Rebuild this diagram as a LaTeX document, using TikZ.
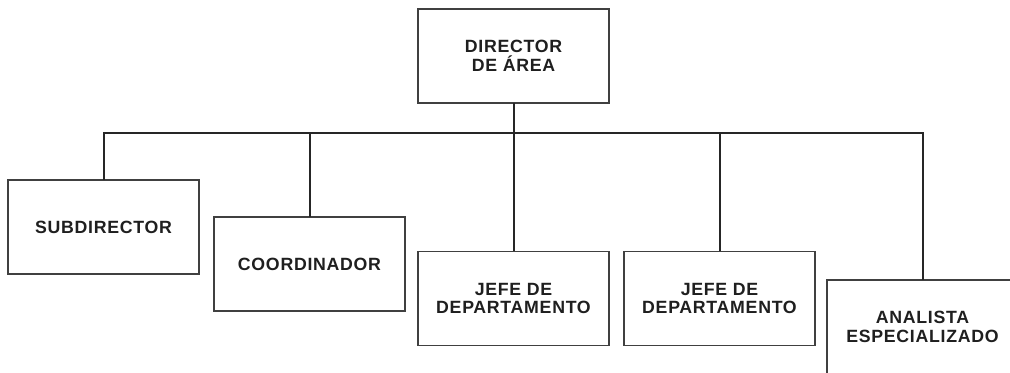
\documentclass[tikz,border=0pt]{standalone}
\usepackage{fontspec}
\newfontfamily\orgfont[LetterSpace=4]{Liberation Sans}
\usepackage{tikz}
\usetikzlibrary{positioning}

\tikzset{
  puesto/.style={draw=black!75,line width=0.9pt,fill=white,minimum width=143.25pt,minimum height=70.5pt,
    inner sep=0pt,outer sep=0pt,align=center,text=black!88,font=\orgfont\bfseries\fontsize{13.3}{13.8}\selectfont},
  enlace/.style={draw=black!85,line width=1.5pt}
}

\begin{document}
\begin{tikzpicture}[line join=miter,x=0.75pt,y=-0.75pt]
\useasboundingbox (0,0) rectangle (1010,373);
\clip (0,0) rectangle (1010,373);
% cajas
\node[puesto] (director) at (513.5,56) {DIRECTOR\\DE ÁREA};
\node[puesto] (sub) at (103.5,227) {SUBDIRECTOR};
\node[puesto] (coord) at (309.5,264) {COORDINADOR};
\node[puesto] (jefeA) at (513.5,298.5) {JEFE DE\\DEPARTAMENTO};
\node[puesto] (jefeB) at (719.5,298.5) {JEFE DE\\DEPARTAMENTO};
\node[puesto] (analista) at (922.5,327) {ANALISTA\\ESPECIALIZADO};
% lineas
\coordinate (bus) at (0,133);
\draw[enlace] (sub.north) |- (bus -| analista.north) -- (analista.north);
\draw[enlace] (director.south) -- (jefeA.north);
\draw[enlace] (coord.north) -- (coord.north |- bus);
\draw[enlace] (jefeB.north) -- (jefeB.north |- bus);
\end{tikzpicture}
\end{document}
